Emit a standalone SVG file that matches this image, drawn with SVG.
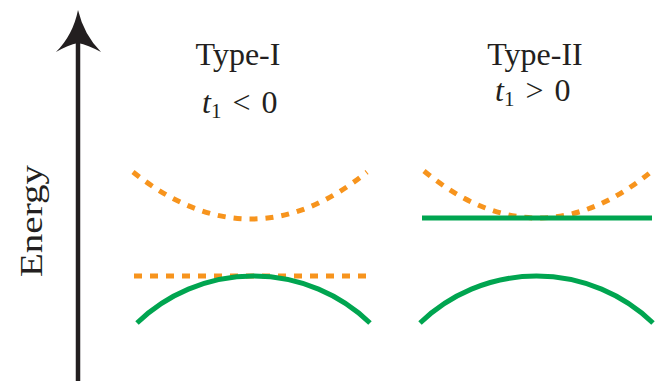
<svg xmlns="http://www.w3.org/2000/svg" width="656" height="381" viewBox="0 0 656 381">
<style>
.t{font-family:"Liberation Serif","Times New Roman",serif;font-size:32px;fill:#231F20}
.it{font-style:italic}
.or{fill:none;stroke:#F7941D;stroke-width:5;stroke-dasharray:8 8}
.gr{fill:none;stroke:#00A550;stroke-width:5}
</style>
<rect width="656" height="381" fill="#fff"/>
<g id="axis">
<line x1="78" y1="381" x2="78" y2="40" stroke="#231F20" stroke-width="4.5"/>
<path d="M78,10 Q84,35 101,52 Q88,45 78,43 Q68,45 56,52 Q73,35 78,10 Z" fill="#231F20"/>
<text class="t" transform="translate(42,221) rotate(-90)" text-anchor="middle" font-size="33" textLength="112" lengthAdjust="spacingAndGlyphs">Energy</text>
</g>
<g id="type1">
<text class="t" x="238" y="65" text-anchor="middle">Type-I</text>
<text class="t" x="202" y="113"><tspan class="it">t</tspan><tspan font-size="21" dy="5">1</tspan><tspan dy="-5" dx="11">&lt;</tspan><tspan dx="11">0</tspan></text>
<path class="or" d="M133,172 Q251,266 367,172"/>
<line class="or" x1="134" y1="276" x2="366" y2="276"/>
<path class="gr" d="M137,323 A168,168 0 0 1 370,323"/>
</g>
<g id="type2">
<text class="t" x="535" y="65" text-anchor="middle">Type-II</text>
<text class="t" x="495" y="101"><tspan class="it">t</tspan><tspan font-size="21" dy="5">1</tspan><tspan dy="-5" dx="11">&gt;</tspan><tspan dx="11">0</tspan></text>
<path class="or" d="M424,171 Q538,265 652,171"/>
<line class="gr" x1="422" y1="218" x2="652" y2="218"/>
<path class="gr" d="M420,323 A168,168 0 0 1 653,323"/>
</g>
</svg>
